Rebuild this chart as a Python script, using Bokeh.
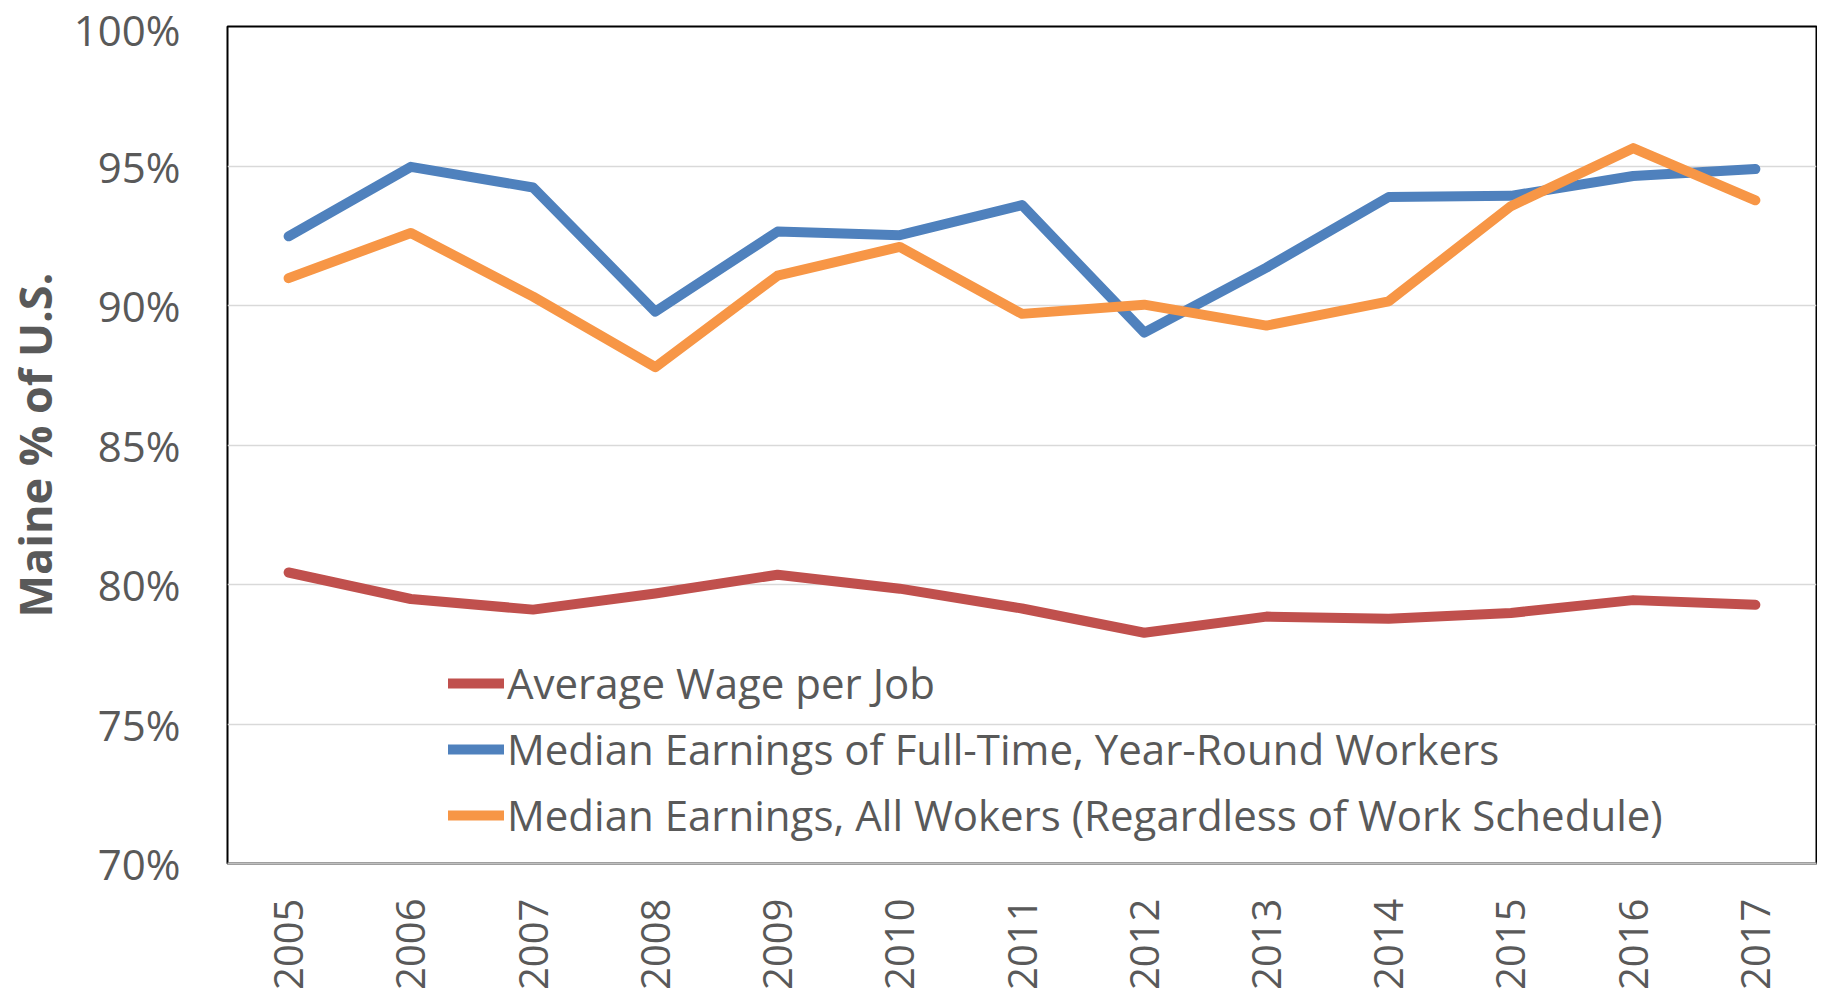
import math
from bokeh.plotting import figure
from bokeh.models import FixedTicker, Legend, LegendItem, ColumnDataSource
from bokeh.embed import file_html
from bokeh.resources import INLINE

years = ["2005", "2006", "2007", "2008", "2009", "2010", "2011", "2012", "2013", "2014", "2015", "2016", "2017"]
avg_wage = [80.43, 79.48, 79.10, 79.68, 80.35, 79.85, 79.14, 78.27, 78.85, 78.77, 78.98, 79.44, 79.27]
median_fulltime = [92.48, 94.97, 94.23, 89.78, 92.65, 92.52, 93.60, 89.03, 91.36, 93.89, 93.93, 94.64, 94.89]
median_all = [90.98, 92.60, 90.32, 87.79, 91.07, 92.10, 89.70, 90.03, 89.28, 90.15, 93.56, 95.64, 93.77]
series_names = ["Average Wage per Job",
                "Median Earnings of Full-Time, Year-Round Workers",
                "Median Earnings, All Wokers (Regardless of Work Schedule)"]
y_ticks = [70, 75, 80, 85, 90, 95, 100]
y_tick_labels = ["70%", "75%", "80%", "85%", "90%", "95%", "100%"]

FONT = "Open Sans"
TXT = "#595959"

p = figure(x_range=years, y_range=(70, 100), width=1817, height=992,
           output_backend="svg", toolbar_location=None,
           min_border_left=225, min_border_right=1, min_border_top=26, min_border_bottom=128)

src = ColumnDataSource(dict(x=years, a=avg_wage, b=median_fulltime, c=median_all))
colors = ["#C0504D", "#4F81BD", "#F79646"]
renderers = []
for col, colr in zip(["a", "b", "c"], colors):
    r = p.line("x", col, source=src, line_color=colr, line_width=10, line_cap="round", line_join="round")
    renderers.append(r)

p.x_range.range_padding = 0
p.outline_line_color = "black"
p.outline_line_width = 2
p.background_fill_color = "white"
p.border_fill_color = "white"

p.xgrid.grid_line_color = None
p.ygrid.grid_line_color = "#D9D9D9"
p.ygrid.grid_line_width = 1.5
p.yaxis.ticker = FixedTicker(ticks=y_ticks)
p.yaxis.major_label_overrides = {t: l for t, l in zip(y_ticks, y_tick_labels)}

p.yaxis.axis_line_color = None
p.yaxis.major_tick_line_color = None
p.yaxis.minor_tick_line_color = None
p.yaxis.major_label_standoff = 41
p.yaxis.major_label_text_font = FONT
p.yaxis.major_label_text_font_size = "42px"
p.yaxis.major_label_text_color = TXT
p.yaxis.axis_label = "Maine % of U.S."
p.yaxis.axis_label_text_font = FONT
p.yaxis.axis_label_text_font_size = "45px"
p.yaxis.axis_label_text_font_style = "bold"
p.yaxis.axis_label_text_color = TXT
p.yaxis.axis_label_standoff = 6

p.xaxis.axis_line_color = "#BFBFBF"
p.xaxis.axis_line_width = 2
p.xaxis.major_tick_line_color = None
p.xaxis.minor_tick_line_color = None
p.xaxis.major_label_orientation = math.pi / 2
p.xaxis.major_label_standoff = 29
p.xaxis.major_label_text_font = FONT
p.xaxis.major_label_text_font_size = "40px"
p.xaxis.major_label_text_color = TXT

legend = Legend(items=[LegendItem(label=n, renderers=[r]) for n, r in zip(series_names, renderers)],
                location=(221, 20))
legend.background_fill_alpha = 0
legend.border_line_alpha = 0
legend.glyph_width = 56
legend.glyph_height = 20
legend.label_standoff = 3
legend.label_text_font = FONT
legend.label_text_font_size = "42px"
legend.label_text_color = TXT
legend.spacing = 9
legend.padding = 0
p.add_layout(legend, "center")

open("out.html", "w").write(file_html(p, INLINE))
